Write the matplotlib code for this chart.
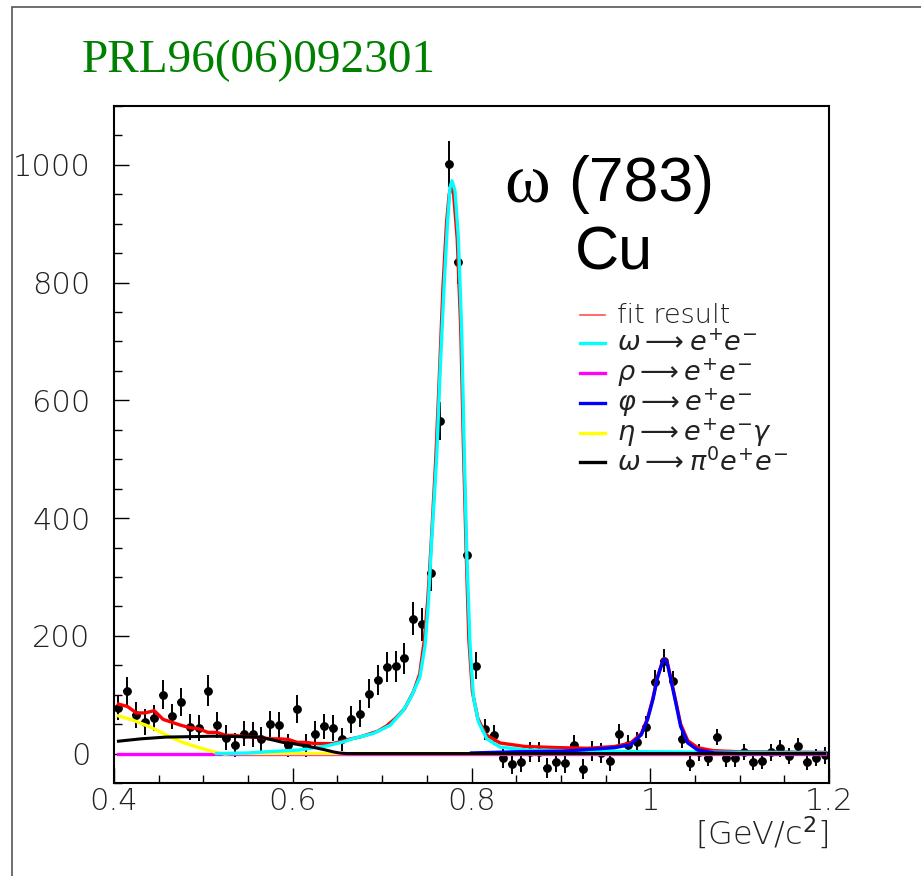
import matplotlib
matplotlib.use("Agg")
import matplotlib.pyplot as plt
from matplotlib.patches import Rectangle
from matplotlib.ticker import MultipleLocator, FuncFormatter

# ---------------- data ----------------
mass = [0.405, 0.415, 0.425, 0.435, 0.445, 0.455, 0.465, 0.475, 0.485, 0.495,
        0.505, 0.515, 0.525, 0.535, 0.545, 0.555, 0.565, 0.575, 0.585, 0.595,
        0.605, 0.615, 0.625, 0.635, 0.645, 0.655, 0.665, 0.675, 0.685, 0.695,
        0.705, 0.715, 0.725, 0.735, 0.745, 0.755, 0.765, 0.775, 0.785, 0.795,
        0.805, 0.815, 0.825, 0.835, 0.845, 0.855, 0.865, 0.875, 0.885, 0.895,
        0.905, 0.915, 0.925, 0.935, 0.945, 0.955, 0.965, 0.975, 0.985, 0.995,
        1.005, 1.015, 1.025, 1.035, 1.045, 1.055, 1.065, 1.075, 1.085, 1.095,
        1.105, 1.115, 1.125, 1.135, 1.145, 1.155, 1.165, 1.175, 1.185, 1.195]
counts = [78, 106, 65, 54, 61, 100, 63, 87, 45, 44,
          107, 48, 27, 15, 34, 33, 25, 50, 48, 14,
          76, 14, 34, 46, 43, 24, 58, 68, 102, 125,
          147, 148, 162, 229, 220, 306, 565, 1001, 835, 338,
          149, 41, 32, -7, -18, -14, 2, 2, -24, -15,
          -16, 14, -26, 4, 1, -12, 33, 14, 19, 45,
          122, 158, 124, 25, -16, 2, -7, 28, -8, -8,
          3, -14, -12, 2, 9, -4, 13, -14, -7, -3]
errors = [21, 24, 22, 22, 22, 25, 22, 24, 22, 22,
          26, 22, 21, 20, 21, 21, 20, 22, 22, 20,
          24, 20, 21, 22, 22, 20, 23, 23, 25, 25,
          26, 26, 26, 28, 28, 30, 33, 39, 37, 27,
          23, 18, 17, 17, 17, 17, 17, 17, 17, 17,
          17, 17, 17, 17, 17, 17, 17, 17, 17, 18,
          20, 19, 16, 15, 14, 14, 14, 14, 14, 14,
          14, 14, 14, 14, 14, 14, 14, 14, 14, 14]

# fit result (total)
fit_x = [0.405, 0.415, 0.425, 0.435, 0.445, 0.455, 0.465, 0.475, 0.485, 0.495,
         0.505, 0.515, 0.525, 0.535, 0.545, 0.555, 0.565, 0.575, 0.585, 0.595,
         0.605, 0.615, 0.625, 0.635, 0.645, 0.655, 0.665, 0.675, 0.685, 0.695,
         0.705, 0.715, 0.725, 0.735, 0.742, 0.747, 0.751, 0.755, 0.760, 0.764,
         0.768, 0.772, 0.775, 0.7775, 0.780, 0.784, 0.788, 0.791, 0.794, 0.797,
         0.801, 0.807, 0.816, 0.832, 0.860, 0.900, 0.930, 0.960, 0.978, 0.990,
         0.997, 1.003, 1.008, 1.014, 1.016, 1.019, 1.023, 1.029, 1.034, 1.042,
         1.053, 1.070, 1.100, 1.195]
fit_y = [84, 80, 69, 69, 73, 58, 53, 48, 44, 42,
         36, 36, 31, 31, 29, 28, 27, 25, 25, 24,
         19, 19, 17, 17, 17, 21, 25, 28, 33, 38,
         47, 60, 76, 105, 135, 190, 260, 360, 500, 640,
         790, 900, 950, 965, 950, 875, 720, 520, 345, 195,
         105, 60, 32, 18, 12, 10, 9, 12, 18, 34,
         60, 94, 130, 158, 161, 155, 128, 86, 50, 22,
         10, 5, 3, 2]

# omega -> e+e-
omega_x = [0.515, 0.550, 0.570, 0.607, 0.620, 0.638, 0.657, 0.6665, 0.690, 0.709,
           0.7236, 0.733, 0.7423, 0.748, 0.7517, 0.7554, 0.7611, 0.7648, 0.7692, 0.773,
           0.776, 0.7782, 0.7816, 0.7853, 0.789, 0.792, 0.7947, 0.7984, 0.8021, 0.8077,
           0.8171, 0.832, 0.862, 0.900, 0.950, 1.000, 1.100, 1.195]
omega_y = [0, 1, 3, 6, 9, 13, 20, 25, 34, 48,
           73, 98, 130, 183, 255, 362, 504, 647, 790, 898,
           962, 973, 955, 876, 719, 504, 340, 183, 97, 54,
           25, 11, 6, 5, 4, 3, 2, 1]

# rho -> e+e-
rho_x = [0.405, 1.195]
rho_y = [0, 0]

# phi -> e+e-
phi_x = [0.800, 0.850, 0.900, 0.922, 0.960, 0.978, 0.990, 0.997, 1.003, 1.008,
         1.014, 1.016, 1.019, 1.023, 1.029, 1.034, 1.042, 1.053, 1.072, 1.100, 1.195]
phi_y = [1, 3, 4, 6, 10, 15, 32, 58, 92, 128,
         157, 160, 154, 126, 83, 46, 18, 6, 1, 0, 0]

# eta -> e+e-gamma
eta_x = [0.405, 0.4206, 0.4393, 0.458, 0.4767, 0.4954, 0.514, 0.5246, 0.530, 1.195]
eta_y = [64, 57, 46, 32, 19, 10, 2, -1, 0, 0]

# omega -> pi0 e+e-
dal_x = [0.405, 0.430, 0.458, 0.4954, 0.510, 0.533, 0.563, 0.575, 0.589, 0.600,
         0.615, 0.625, 0.637, 0.645, 0.652, 0.660, 1.195]
dal_y = [21, 25, 28, 29, 29.5, 29, 28, 24, 19, 17,
         13, 10, 6, 3, 1, 0, 0]

legend_labels = ["fit result",
                 r"$\omega \longrightarrow e^{+}e^{-}$",
                 r"$\rho \longrightarrow e^{+}e^{-}$",
                 r"$\varphi \longrightarrow e^{+}e^{-}$",
                 r"$\eta \longrightarrow e^{+}e^{-}\gamma$",
                 r"$\omega \longrightarrow \pi^{0}e^{+}e^{-}$"]
legend_colors = ["#ff5050", "#00ffff", "#ff00ff", "#0000ff", "#ffff00", "#000000"]

# ---------------- figure ----------------
W, H = 921, 876
fig = plt.figure(figsize=(W / 100, H / 100), dpi=100)
fig.patch.set_facecolor("white")

# outer pad frame
fig.add_artist(Rectangle((12 / W, -0.2), 1.2, 1 - 7 / H + 0.2,
                         transform=fig.transFigure, fill=False,
                         edgecolor="#555555", linewidth=1.2))

ax_l, ax_r, ax_t, ax_b = 114, 829, 106, 783
ax = fig.add_axes([ax_l / W, 1 - ax_b / H, (ax_r - ax_l) / W, (ax_b - ax_t) / H])

ax.set_xlim(0.4, 1.2)
ax.set_ylim(-50, 1100)

# curves
ax.plot(rho_x, rho_y, color="#ff00ff", lw=2.4, zorder=3)
ax.plot(eta_x, eta_y, color="#ffff00", lw=2.4, zorder=3)
ax.plot(fit_x, fit_y, color="#ff0000", lw=2.4, zorder=4)
ax.plot(omega_x, omega_y, color="#00ffff", lw=2.4, zorder=5)
ax.plot(phi_x, phi_y, color="#0000ff", lw=2.4, zorder=6)
ax.plot(dal_x, dal_y, color="#000000", lw=2.2, zorder=7)

# data points
ax.errorbar(mass, counts, yerr=errors, xerr=0.0045, fmt="o", color="black",
            ms=5.3, elinewidth=1.4, capsize=0, zorder=2)

# spines / ticks
for s in ax.spines.values():
    s.set_linewidth(1.5)
    s.set_color("black")
ax.xaxis.set_major_locator(MultipleLocator(0.2))
ax.xaxis.set_minor_locator(MultipleLocator(0.05))
ax.yaxis.set_major_locator(MultipleLocator(200))
ax.yaxis.set_minor_locator(MultipleLocator(50))
ax.xaxis.set_major_formatter(FuncFormatter(lambda v, p: f"{v:.1f}".rstrip("0").rstrip(".")))
ax.tick_params(which="both", direction="in", top=False, right=False, width=1.0)
ax.tick_params(which="major", length=11)
ax.tick_params(which="minor", length=5.5)
ax.tick_params(axis="y", which="major", pad=17, labelsize=22, labelcolor="#222222")
ax.tick_params(axis="x", which="major", pad=3, labelsize=22, labelcolor="#222222")
for lab in ax.get_xticklabels() + ax.get_yticklabels():
    lab.set_fontweight("light")

ax.text(1.0, -0.047, r"[GeV/c$^{2}$]", transform=ax.transAxes, ha="right",
        va="top", fontsize=23, fontweight="light", color="#222222")

# legend (manual)
rows = [315, 343, 373, 403, 433, 462]
for lab, col, py in zip(legend_labels, legend_colors, rows):
    yax = (ax_b - py) / (ax_b - ax_t)
    lw = 1.2 if lab == "fit result" else 2.4
    ax.plot([(580 - ax_l) / (ax_r - ax_l), (605 - ax_l) / (ax_r - ax_l)], [yax, yax],
            transform=ax.transAxes, color=col, lw=lw, zorder=8, clip_on=False)
    ax.text((617 - ax_l) / (ax_r - ax_l), yax, lab, transform=ax.transAxes,
            fontsize=19.5, fontweight="light", color="#222222", va="center",
            ha="left", zorder=8)

# annotations
fig.text(82 / W, 1 - 72 / H, "PRL96(06)092301", family="Liberation Serif",
         fontsize=34, color="#008000", va="baseline", ha="left")
fig.text(504 / W, 1 - 201 / H, "ω", family="Liberation Serif", fontsize=50,
         color="black", va="baseline", ha="left")
fig.text(568 / W, 1 - 201 / H, "(783)", family="Liberation Sans", fontsize=45,
         color="black", va="baseline", ha="left")
fig.text(575 / W, 1 - 269 / H, "Cu", family="Liberation Sans", fontsize=44,
         color="black", va="baseline", ha="left")

fig.savefig("out.png", dpi=100)
